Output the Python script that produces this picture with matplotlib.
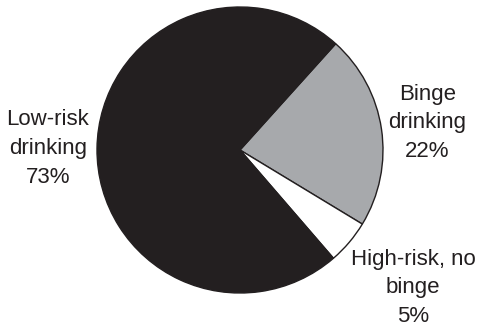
import matplotlib
matplotlib.use("Agg")
import matplotlib.pyplot as plt

# Drinking pattern shares (percent), drawn clockwise from the upper right
categories = ["Binge\ndrinking", "High-risk, no\nbinge", "Low-risk\ndrinking"]
shares = [22, 5, 73]
colors = ["#a7a9ac", "#ffffff", "#231f20"]

# Label anchor points in pie-radius units
label_x = [1.31, 1.21, -1.343]
label_y = [0.19, -0.965, 0.01]

plt.rcParams["font.family"] = ["Liberation Sans", "DejaVu Sans"]

fig = plt.figure(figsize=(4.85, 3.32), dpi=100)
W, H = 485, 332
cx, cy, r = 240, 150, 143
ax = fig.add_axes([(cx - r) / W, (H - cy - r) / H, 2 * r / W, 2 * r / H])

ax.pie(shares, colors=colors, startangle=48, counterclock=False,
       wedgeprops=dict(edgecolor="#231f20", linewidth=1.0))
ax.set_xlim(-1, 1)
ax.set_ylim(-1, 1)
ax.set_aspect("equal")
ax.axis("off")

for name, val, x, y in zip(categories, shares, label_x, label_y):
    ax.text(x, y, f"{name}\n{val}%", ha="center", va="center",
            fontsize=16, color="#231f20", linespacing=1.48, clip_on=False)

fig.savefig("out.png", dpi=100)
